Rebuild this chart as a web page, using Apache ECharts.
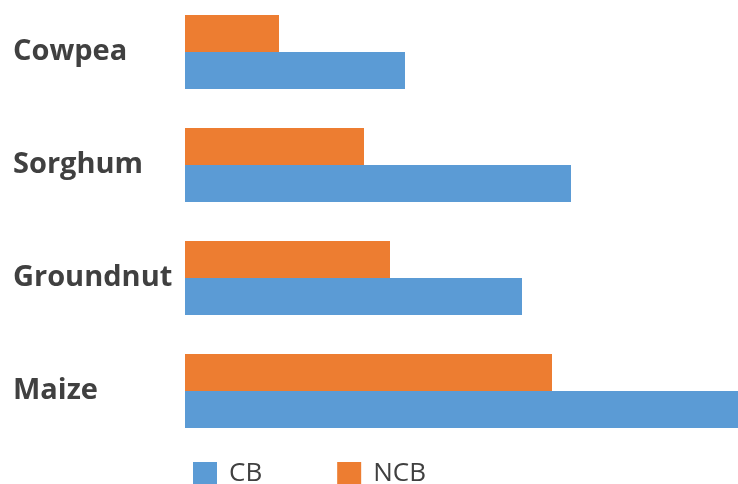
<!DOCTYPE html>
<html>
<head>
<meta charset="utf-8">
<script src="https://cdn.jsdelivr.net/npm/echarts@6/dist/echarts.min.js"></script>
<style>html,body{margin:0;padding:0;background:#fff;overflow:hidden}#c{position:relative;top:-5px;width:738px;height:489px}</style>
</head>
<body>
<div id="c"></div>
<script>
const categories = ['Cowpea', 'Sorghum', 'Groundnut', 'Maize'];
const cbValues = [220, 386, 337, 553];
const ncbValues = [94, 179, 205, 367];
const seriesNames = ['CB', 'NCB'];

const chart = echarts.init(document.getElementById('c'), null, {renderer: 'canvas'});
chart.setOption({
  animation: false,
  grid: {left: 185, right: 0, top: 0.5, height: 452, containLabel: false},
  legend: {
    data: seriesNames,
    left: 193, top: 466, padding: 0,
    itemWidth: 24, itemHeight: 24, itemGap: 75,
    icon: 'rect',
    textStyle: {fontFamily: 'Open Sans', fontSize: 26, color: '#404040', padding: [0, 0, 0, 7]}
  },
  xAxis: {type: 'value', min: 0, max: 553, show: false},
  yAxis: {
    type: 'category', data: categories, inverse: true,
    axisLine: {show: false}, axisTick: {show: false}, splitLine: {show: false},
    axisLabel: {align: 'left', margin: 172, fontFamily: 'Open Sans', fontWeight: 'bold', fontSize: 29, color: '#404040', padding: [0, 0, 11, 0]}
  },
  series: [
    {name: 'NCB', type: 'bar', data: ncbValues, itemStyle: {color: '#ED7D31'}, barGap: '0%', barCategoryGap: '34.5%'},
    {name: 'CB', type: 'bar', data: cbValues, itemStyle: {color: '#5B9BD5'}, barGap: '0%', barCategoryGap: '34.5%'}
  ]
});
</script>
</body>
</html>
